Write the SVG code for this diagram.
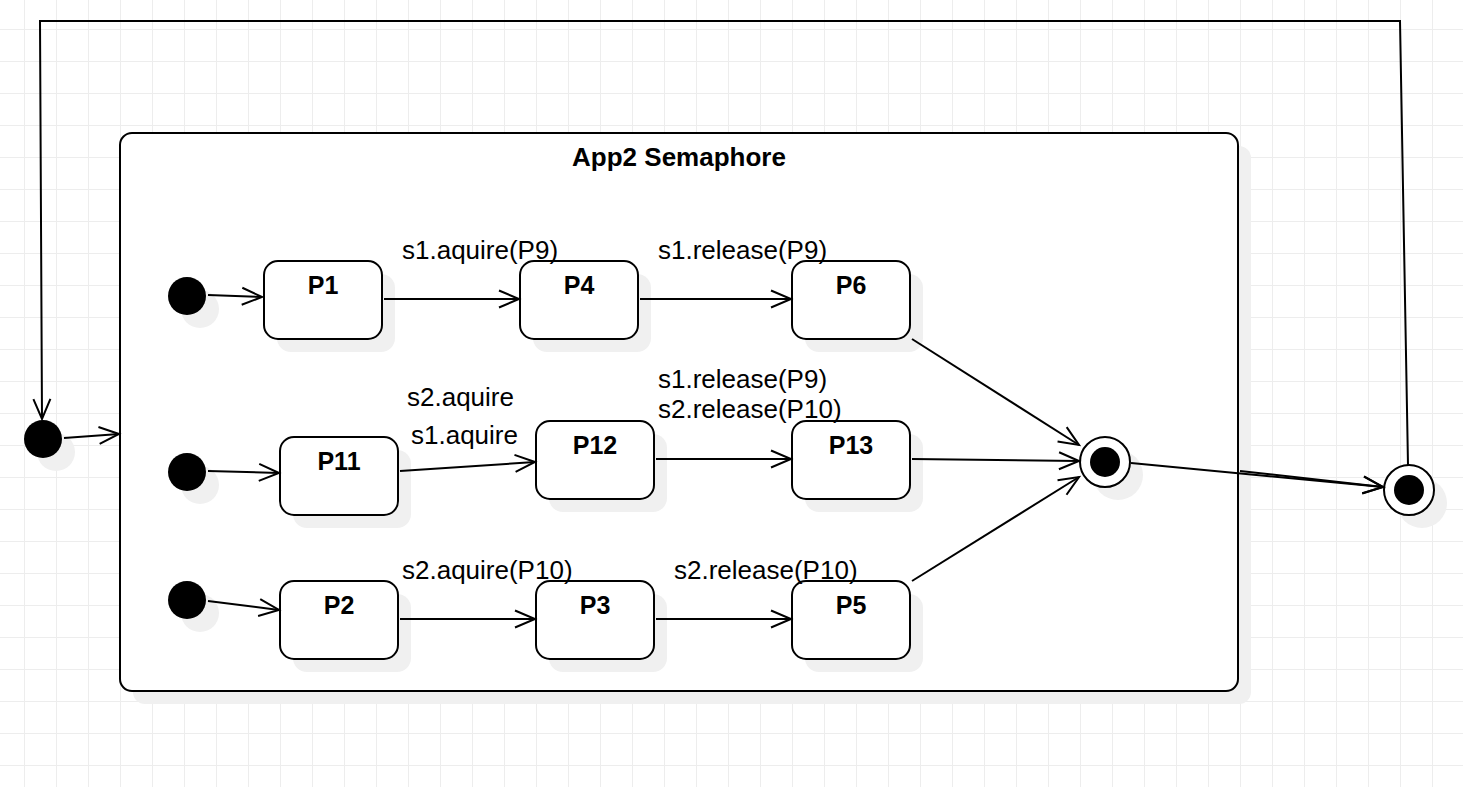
<svg xmlns="http://www.w3.org/2000/svg" width="1463" height="787" viewBox="0 0 1463 787">
  <style>
    .state { fill: #ffffff; stroke: #000000; stroke-width: 2; }
    .shadow { fill: #f0f0f0; stroke: none; }
    .dot { fill: #000000; stroke: none; }
    .ring { fill: #ffffff; stroke: #000000; stroke-width: 2; }
    .edge { fill: none; stroke: #000000; stroke-width: 2; }
    .name { font-family: "Liberation Sans", Arial, sans-serif; font-size: 25px; font-weight: bold; text-anchor: middle; fill: #000000; }
    .title { font-family: "Liberation Sans", Arial, sans-serif; font-size: 26px; font-weight: bold; text-anchor: middle; fill: #000000; }
    .label { font-family: "Liberation Sans", Arial, sans-serif; font-size: 26px; fill: #000000; }
  </style>
  <defs>
    <pattern id="grid" x="24" y="29" width="32" height="32" patternUnits="userSpaceOnUse">
      <rect x="0" y="0" width="1" height="32" fill="#ededed"/>
      <rect x="0" y="0" width="32" height="1" fill="#ededed"/>
    </pattern>
    <marker id="open" markerUnits="userSpaceOnUse" orient="auto" markerWidth="30" markerHeight="30" refX="0" refY="0" viewBox="-25 -15 30 30" overflow="visible">
      <path d="M-20,-8.5 L0,0 L-20,8.5" fill="none" stroke="#000000" stroke-width="2"/>
    </marker>
  </defs>

  <!-- canvas background and grid -->
  <rect x="0" y="0" width="1463" height="787" fill="#ffffff"/>
  <rect x="0" y="0" width="1463" height="787" fill="url(#grid)"/>

  <!-- composite state -->
  <g id="app2-semaphore">
    <rect class="shadow" x="133" y="146" width="1118" height="558" rx="12"/>
    <rect class="state" x="120" y="133" width="1118" height="558" rx="12"/>
    <text class="title" x="679" y="166">App2 Semaphore</text>
  </g>

  <!-- outer initial state -->
  <g id="outer-initial">
    <circle class="shadow" cx="56" cy="452" r="19"/>
    <circle class="dot" cx="43" cy="439" r="19"/>
  </g>

  <!-- outer final state -->
  <g id="outer-final">
    <circle class="shadow" cx="1422" cy="503" r="25"/>
    <circle class="ring" cx="1409" cy="490" r="25"/>
    <circle class="dot" cx="1409" cy="490" r="15"/>
  </g>

  <!-- inner initial states -->
  <g id="init-1">
    <circle class="shadow" cx="200" cy="309" r="19"/>
    <circle class="dot" cx="187" cy="296" r="19"/>
  </g>
  <g id="init-2">
    <circle class="shadow" cx="200" cy="485" r="19"/>
    <circle class="dot" cx="187" cy="472" r="19"/>
  </g>
  <g id="init-3">
    <circle class="shadow" cx="200" cy="613" r="19"/>
    <circle class="dot" cx="187" cy="600" r="19"/>
  </g>

  <!-- inner final state -->
  <g id="inner-final">
    <circle class="shadow" cx="1118" cy="475" r="25"/>
    <circle class="ring" cx="1105" cy="462" r="25"/>
    <circle class="dot" cx="1105" cy="462" r="15"/>
  </g>

  <!-- process states -->
  <g id="P1">
    <rect class="shadow" x="277" y="274" width="118" height="78" rx="14"/>
    <rect class="state" x="264" y="261" width="118" height="78" rx="14"/>
    <text class="name" x="323" y="294">P1</text>
  </g>
  <g id="P4">
    <rect class="shadow" x="533" y="274" width="118" height="78" rx="14"/>
    <rect class="state" x="520" y="261" width="118" height="78" rx="14"/>
    <text class="name" x="579" y="294">P4</text>
  </g>
  <g id="P6">
    <rect class="shadow" x="805" y="274" width="118" height="78" rx="14"/>
    <rect class="state" x="792" y="261" width="118" height="78" rx="14"/>
    <text class="name" x="851" y="294">P6</text>
  </g>
  <g id="P11">
    <rect class="shadow" x="293" y="450" width="118" height="78" rx="14"/>
    <rect class="state" x="280" y="437" width="118" height="78" rx="14"/>
    <text class="name" x="339" y="470">P11</text>
  </g>
  <g id="P12">
    <rect class="shadow" x="549" y="434" width="118" height="78" rx="14"/>
    <rect class="state" x="536" y="421" width="118" height="78" rx="14"/>
    <text class="name" x="595" y="454">P12</text>
  </g>
  <g id="P13">
    <rect class="shadow" x="805" y="434" width="118" height="78" rx="14"/>
    <rect class="state" x="792" y="421" width="118" height="78" rx="14"/>
    <text class="name" x="851" y="454">P13</text>
  </g>
  <g id="P2">
    <rect class="shadow" x="293" y="594" width="118" height="78" rx="14"/>
    <rect class="state" x="280" y="581" width="118" height="78" rx="14"/>
    <text class="name" x="339" y="614">P2</text>
  </g>
  <g id="P3">
    <rect class="shadow" x="549" y="594" width="118" height="78" rx="14"/>
    <rect class="state" x="536" y="581" width="118" height="78" rx="14"/>
    <text class="name" x="595" y="614">P3</text>
  </g>
  <g id="P5">
    <rect class="shadow" x="805" y="594" width="118" height="78" rx="14"/>
    <rect class="state" x="792" y="581" width="118" height="78" rx="14"/>
    <text class="name" x="851" y="614">P5</text>
  </g>

  <!-- transitions -->
  <g id="connectors">
    <polyline class="edge" points="1408,465 1400,21 40,21 42,419" marker-end="url(#open)"/>
    <line class="edge" x1="64" y1="438" x2="119" y2="434" marker-end="url(#open)"/>

    <line class="edge" x1="208" y1="295" x2="262" y2="297" marker-end="url(#open)"/>
    <line class="edge" x1="384" y1="299" x2="519" y2="299" marker-end="url(#open)"/>
    <line class="edge" x1="640" y1="299" x2="791" y2="299" marker-end="url(#open)"/>
    <line class="edge" x1="912" y1="339" x2="1079" y2="445" marker-end="url(#open)"/>

    <line class="edge" x1="208" y1="471" x2="279" y2="473" marker-end="url(#open)"/>
    <line class="edge" x1="400" y1="471" x2="535" y2="462" marker-end="url(#open)"/>
    <line class="edge" x1="656" y1="459" x2="791" y2="459" marker-end="url(#open)"/>
    <line class="edge" x1="912" y1="459" x2="1079" y2="461" marker-end="url(#open)"/>

    <line class="edge" x1="208" y1="601" x2="279" y2="610" marker-end="url(#open)"/>
    <line class="edge" x1="400" y1="619" x2="535" y2="619" marker-end="url(#open)"/>
    <line class="edge" x1="656" y1="619" x2="791" y2="619" marker-end="url(#open)"/>
    <line class="edge" x1="912" y1="581" x2="1079" y2="477" marker-end="url(#open)"/>

    <line class="edge" x1="1131" y1="463" x2="1383" y2="487" marker-end="url(#open)"/>
    <line class="edge" x1="1240" y1="471" x2="1383" y2="487" marker-end="url(#open)"/>
  </g>

  <!-- transition labels -->
  <g id="labels">
    <text class="label" x="402" y="259">s1.aquire(P9)</text>
    <text class="label" x="658" y="259">s1.release(P9)</text>
    <text class="label" x="407" y="406">s2.aquire</text>
    <text class="label" x="411" y="444">s1.aquire</text>
    <text class="label" x="658" y="388">s1.release(P9)</text>
    <text class="label" x="658" y="418">s2.release(P10)</text>
    <text class="label" x="402" y="579">s2.aquire(P10)</text>
    <text class="label" x="674" y="579">s2.release(P10)</text>
  </g>
</svg>
